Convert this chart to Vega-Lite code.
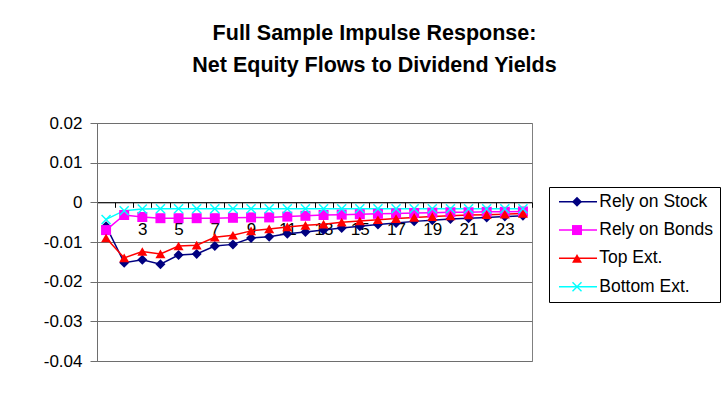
{
  "$schema": "https://vega.github.io/schema/vega-lite/v6.json",
  "width": 435,
  "height": 238,
  "autosize": "none",
  "padding": {"left": 97, "top": 123, "right": 193, "bottom": 39},
  "background": "white",
  "title": {
    "text": ["Full Sample Impulse Response:", "Net Equity Flows to Dividend Yields"],
    "font": "Liberation Sans",
    "fontSize": 21.5,
    "fontWeight": "bold",
    "color": "black",
    "anchor": "middle",
    "frame": "group",
    "dx": 60,
    "offset": 38,
    "lineHeight": 32
  },
  "config": {
    "view": {"stroke": "#808080", "strokeWidth": 1},
    "font": "Liberation Sans"
  },
  "data": {
    "values": [
      {"period": 1, "series": "Rely on Stock", "value": -0.006},
      {"period": 2, "series": "Rely on Stock", "value": -0.0152},
      {"period": 3, "series": "Rely on Stock", "value": -0.0145},
      {"period": 4, "series": "Rely on Stock", "value": -0.0156},
      {"period": 5, "series": "Rely on Stock", "value": -0.0133},
      {"period": 6, "series": "Rely on Stock", "value": -0.013},
      {"period": 7, "series": "Rely on Stock", "value": -0.011},
      {"period": 8, "series": "Rely on Stock", "value": -0.0106},
      {"period": 9, "series": "Rely on Stock", "value": -0.009},
      {"period": 10, "series": "Rely on Stock", "value": -0.0087},
      {"period": 11, "series": "Rely on Stock", "value": -0.0079},
      {"period": 12, "series": "Rely on Stock", "value": -0.0075},
      {"period": 13, "series": "Rely on Stock", "value": -0.007},
      {"period": 14, "series": "Rely on Stock", "value": -0.0065},
      {"period": 15, "series": "Rely on Stock", "value": -0.006},
      {"period": 16, "series": "Rely on Stock", "value": -0.0056},
      {"period": 17, "series": "Rely on Stock", "value": -0.0052},
      {"period": 18, "series": "Rely on Stock", "value": -0.0048},
      {"period": 19, "series": "Rely on Stock", "value": -0.0045},
      {"period": 20, "series": "Rely on Stock", "value": -0.0042},
      {"period": 21, "series": "Rely on Stock", "value": -0.004},
      {"period": 22, "series": "Rely on Stock", "value": -0.0038},
      {"period": 23, "series": "Rely on Stock", "value": -0.0036},
      {"period": 24, "series": "Rely on Stock", "value": -0.0034},
      {"period": 1, "series": "Rely on Bonds", "value": -0.007},
      {"period": 2, "series": "Rely on Bonds", "value": -0.0032},
      {"period": 3, "series": "Rely on Bonds", "value": -0.0037},
      {"period": 4, "series": "Rely on Bonds", "value": -0.004},
      {"period": 5, "series": "Rely on Bonds", "value": -0.004},
      {"period": 6, "series": "Rely on Bonds", "value": -0.004},
      {"period": 7, "series": "Rely on Bonds", "value": -0.004},
      {"period": 8, "series": "Rely on Bonds", "value": -0.0039},
      {"period": 9, "series": "Rely on Bonds", "value": -0.0038},
      {"period": 10, "series": "Rely on Bonds", "value": -0.0038},
      {"period": 11, "series": "Rely on Bonds", "value": -0.0036},
      {"period": 12, "series": "Rely on Bonds", "value": -0.0034},
      {"period": 13, "series": "Rely on Bonds", "value": -0.0032},
      {"period": 14, "series": "Rely on Bonds", "value": -0.0031},
      {"period": 15, "series": "Rely on Bonds", "value": -0.003},
      {"period": 16, "series": "Rely on Bonds", "value": -0.0029},
      {"period": 17, "series": "Rely on Bonds", "value": -0.0028},
      {"period": 18, "series": "Rely on Bonds", "value": -0.0027},
      {"period": 19, "series": "Rely on Bonds", "value": -0.0026},
      {"period": 20, "series": "Rely on Bonds", "value": -0.0025},
      {"period": 21, "series": "Rely on Bonds", "value": -0.0025},
      {"period": 22, "series": "Rely on Bonds", "value": -0.0024},
      {"period": 23, "series": "Rely on Bonds", "value": -0.0024},
      {"period": 24, "series": "Rely on Bonds", "value": -0.0023},
      {"period": 1, "series": "Top Ext.", "value": -0.009},
      {"period": 2, "series": "Top Ext.", "value": -0.014},
      {"period": 3, "series": "Top Ext.", "value": -0.0124},
      {"period": 4, "series": "Top Ext.", "value": -0.013},
      {"period": 5, "series": "Top Ext.", "value": -0.011},
      {"period": 6, "series": "Top Ext.", "value": -0.0108},
      {"period": 7, "series": "Top Ext.", "value": -0.0088},
      {"period": 8, "series": "Top Ext.", "value": -0.0083},
      {"period": 9, "series": "Top Ext.", "value": -0.0072},
      {"period": 10, "series": "Top Ext.", "value": -0.0067},
      {"period": 11, "series": "Top Ext.", "value": -0.0062},
      {"period": 12, "series": "Top Ext.", "value": -0.0058},
      {"period": 13, "series": "Top Ext.", "value": -0.0055},
      {"period": 14, "series": "Top Ext.", "value": -0.005},
      {"period": 15, "series": "Top Ext.", "value": -0.0047},
      {"period": 16, "series": "Top Ext.", "value": -0.0044},
      {"period": 17, "series": "Top Ext.", "value": -0.0041},
      {"period": 18, "series": "Top Ext.", "value": -0.0038},
      {"period": 19, "series": "Top Ext.", "value": -0.0036},
      {"period": 20, "series": "Top Ext.", "value": -0.0034},
      {"period": 21, "series": "Top Ext.", "value": -0.0032},
      {"period": 22, "series": "Top Ext.", "value": -0.0031},
      {"period": 23, "series": "Top Ext.", "value": -0.003},
      {"period": 24, "series": "Top Ext.", "value": -0.0028},
      {"period": 1, "series": "Bottom Ext.", "value": -0.0043},
      {"period": 2, "series": "Bottom Ext.", "value": -0.0021},
      {"period": 3, "series": "Bottom Ext.", "value": -0.0017},
      {"period": 4, "series": "Bottom Ext.", "value": -0.0016},
      {"period": 5, "series": "Bottom Ext.", "value": -0.0016},
      {"period": 6, "series": "Bottom Ext.", "value": -0.0016},
      {"period": 7, "series": "Bottom Ext.", "value": -0.0016},
      {"period": 8, "series": "Bottom Ext.", "value": -0.0016},
      {"period": 9, "series": "Bottom Ext.", "value": -0.0016},
      {"period": 10, "series": "Bottom Ext.", "value": -0.0016},
      {"period": 11, "series": "Bottom Ext.", "value": -0.0016},
      {"period": 12, "series": "Bottom Ext.", "value": -0.0016},
      {"period": 13, "series": "Bottom Ext.", "value": -0.0016},
      {"period": 14, "series": "Bottom Ext.", "value": -0.0016},
      {"period": 15, "series": "Bottom Ext.", "value": -0.0016},
      {"period": 16, "series": "Bottom Ext.", "value": -0.0016},
      {"period": 17, "series": "Bottom Ext.", "value": -0.0016},
      {"period": 18, "series": "Bottom Ext.", "value": -0.0016},
      {"period": 19, "series": "Bottom Ext.", "value": -0.0016},
      {"period": 20, "series": "Bottom Ext.", "value": -0.0016},
      {"period": 21, "series": "Bottom Ext.", "value": -0.0016},
      {"period": 22, "series": "Bottom Ext.", "value": -0.0016},
      {"period": 23, "series": "Bottom Ext.", "value": -0.0016},
      {"period": 24, "series": "Bottom Ext.", "value": -0.0016}
    ]
  },
  "encoding": {
    "x": {
      "field": "period",
      "type": "quantitative",
      "scale": {"domain": [0.5, 24.5], "nice": false, "zero": false},
      "axis": {
        "title": null,
        "values": [0.5, 1.5, 2.5, 3.5, 4.5, 5.5, 6.5, 7.5, 8.5, 9.5, 10.5, 11.5, 12.5, 13.5, 14.5, 15.5, 16.5, 17.5, 18.5, 19.5, 20.5, 21.5, 22.5, 23.5, 24.5],
        "offset": -158.7,
        "grid": false,
        "domainColor": "black",
        "tickColor": "black",
        "tickSize": 5,
        "labelExpr": "((datum.value + 0.5) % 2 == 1 && datum.value < 24) ? '' + (datum.value + 0.5) : ''",
        "labelOffset": 9.06,
        "labelFont": "Liberation Sans",
        "labelFontSize": 17,
        "labelColor": "black",
        "labelPadding": 14,
        "labelOverlap": false,
        "labelFlush": false,
        "labelBound": false
      }
    },
    "y": {
      "field": "value",
      "type": "quantitative",
      "scale": {"domain": [-0.04, 0.02], "nice": false, "zero": false},
      "axis": {
        "title": null,
        "values": [-0.04, -0.03, -0.02, -0.01, 0, 0.01, 0.02],
        "grid": true,
        "gridColor": "#6e6e6e",
        "gridOpacity": 1,
        "domainColor": "#6e6e6e",
        "tickColor": "#6e6e6e",
        "tickSize": 7,
        "labelExpr": "datum.value == 0 ? '0' : replace(format(datum.value, '.2f'), '\u2212', '-')",
        "labelFont": "Liberation Sans",
        "labelFontSize": 17,
        "labelColor": "black",
        "labelPadding": 8
      }
    }
  },
  "layer": [
    {
      "mark": {"type": "line", "strokeWidth": 1.5},
      "encoding": {
        "stroke": {
          "field": "series",
          "type": "nominal",
          "scale": {
            "domain": ["Rely on Stock", "Rely on Bonds", "Top Ext.", "Bottom Ext.", "none"],
            "range": ["#000080", "#FF00FF", "#FF0000", "#00FFFF", "#000000"]
          },
          "legend": {
            "orient": "none",
            "legendX": 452,
            "legendY": 64,
            "title": null,
            "values": ["Rely on Stock", "Rely on Bonds", "Top Ext.", "Bottom Ext."],
            "symbolType": "M-4.75,0H4.75",
            "symbolSize": 64,
            "symbolStrokeWidth": 1.5,
            "symbolOffset": 14.25,
            "labelFont": "Liberation Sans",
            "labelFontSize": 17.5,
            "labelColor": "black",
            "labelOffset": 12.5,
            "strokeColor": "black",
            "padding": 6,
            "rowPadding": 9.3
          }
        }
      }
    },
    {
      "mark": {"type": "point", "filled": true, "size": 100, "opacity": 1},
      "encoding": {
        "color": {
          "field": "series",
          "type": "nominal",
          "scale": {
            "domain": ["Rely on Stock", "Rely on Bonds", "Top Ext.", "Bottom Ext."],
            "range": ["#000080", "#FF00FF", "#FF0000", "#00FFFF"]
          },
          "legend": {
            "orient": "none",
            "legendX": 452,
            "legendY": 64,
            "title": null,
            "symbolSize": 100,
            "symbolOpacity": 1,
            "symbolStrokeWidth": 1.5,
            "symbolOffset": 13.25,
            "labelFont": "Liberation Sans",
            "labelFontSize": 17.5,
            "labelOpacity": 0,
            "labelOffset": 12.5,
            "padding": 6,
            "rowPadding": 9.3
          }
        },
        "shape": {
          "field": "series",
          "type": "nominal",
          "scale": {
            "domain": ["Rely on Stock", "Rely on Bonds", "Top Ext.", "Bottom Ext."],
            "range": ["diamond", "square", "triangle-up", "M-1,-0.8L-0.8,-1L0,-0.2L0.8,-1L1,-0.8L0.2,0L1,0.8L0.8,1L0,0.2L-0.8,1L-1,0.8L-0.2,0Z"]
          },
          "legend": {
            "orient": "none",
            "legendX": 452,
            "legendY": 64,
            "title": null,
            "symbolSize": 100,
            "symbolStrokeWidth": 1.5,
            "symbolOffset": 13.25,
            "labelFont": "Liberation Sans",
            "labelFontSize": 17.5,
            "labelOpacity": 0,
            "labelOffset": 12.5,
            "padding": 6,
            "rowPadding": 9.3
          }
        }
      }
    }
  ]
}
